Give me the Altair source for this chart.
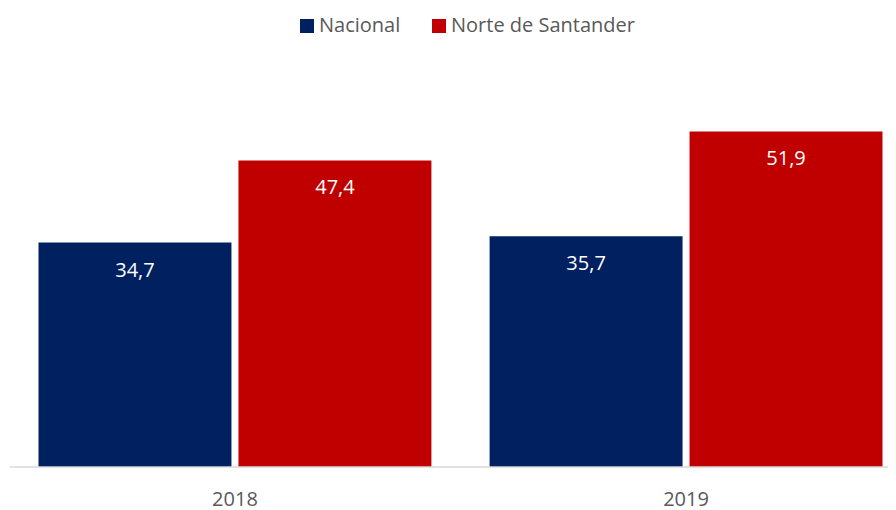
import altair as alt
import pandas as pd

years = ["2018", "2018", "2019", "2019"]
series = ["Nacional", "Norte de Santander", "Nacional", "Norte de Santander"]
values = [34.7, 47.4, 35.7, 51.9]
series_order = ["Nacional", "Norte de Santander"]
colors = ["#002060", "#C00000"]

df = pd.DataFrame({"year": years, "series": series, "value": values})
df["label"] = [f"{v:.1f}".replace(".", ",") for v in values]

FONT = "Open Sans"

x_scale = alt.Scale(range=[30.5, 874.5], paddingInner=0.129, paddingOuter=0)
xoff_scale = alt.Scale(paddingInner=0.035, paddingOuter=0)
y_scale = alt.Scale(domain=[0, 60])

base = alt.Chart(df).encode(
    x=alt.X("year:N", scale=x_scale, sort=["2018", "2019"],
            axis=alt.Axis(title=None, labelAngle=0, domain=False, ticks=False,
                          labelFont=FONT, labelFontSize=20, labelColor="#595959",
                          labelPadding=22)),
    xOffset=alt.XOffset("series:N", scale=xoff_scale, sort=series_order),
    y=alt.Y("value:Q", scale=y_scale, axis=None),
)

bars = base.mark_bar().encode(
    color=alt.Color("series:N", sort=series_order,
                    scale=alt.Scale(domain=series_order, range=colors),
                    legend=alt.Legend(title=None, orient="none", direction="horizontal",
                                      legendX=289, legendY=-63,
                                      symbolType="square", symbolSize=196,
                                      symbolStrokeWidth=0, labelOffset=2,
                                      columnPadding=28, labelLimit=400,
                                      labelFont=FONT, labelFontSize=20,
                                      labelColor="#595959")),
)

labels = base.mark_text(color="white", font=FONT, fontSize=20, baseline="middle",
                        align="center", dy=28).encode(text="label:N")

baseline = alt.Chart(pd.DataFrame({"v": [0]})).mark_rule(color="#D9D9D9", strokeWidth=1.5).encode(
    y=alt.Y("v:Q", scale=y_scale), x=alt.value(2), x2=alt.value(880)
)

chart = alt.layer(bars, labels, baseline).properties(
    width=880, height=388,
    autosize=alt.AutoSizeParams(type="none"),
    padding={"left": 0, "right": 0, "top": 71, "bottom": 43},
).configure_view(stroke=None)

chart.save("out.html", embed_options={"renderer": "svg", "actions": False})
